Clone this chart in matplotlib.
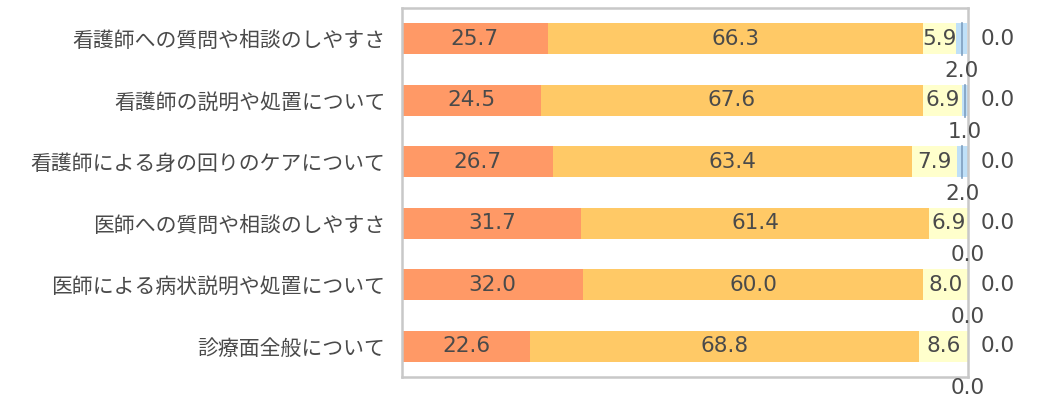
import matplotlib
matplotlib.use("Agg")
import matplotlib.pyplot as plt
import numpy as np

plt.rcParams['font.family'] = ['Noto Sans CJK JP', 'DejaVu Sans']

# 項目
categories = ["看護師への質問や相談のしやすさ",
              "看護師の説明や処置について",
              "看護師による身の回りのケアについて",
              "医師への質問や相談のしやすさ",
              "医師による病状説明や処置について",
              "診療面全般について"]

# 各回答の割合 (%)
s1 = [25.7, 24.5, 26.7, 31.7, 32.0, 22.6]
s2 = [66.3, 67.6, 63.4, 61.4, 60.0, 68.8]
s3 = [5.9, 6.9, 7.9, 6.9, 8.0, 8.6]
s4 = [2.0, 1.0, 2.0, 0.0, 0.0, 0.0]
s5 = [0.0, 0.0, 0.0, 0.0, 0.0, 0.0]

colors = ['#FF9966', '#FFC966', '#FFFFCC', '#BFE0F8', '#9DC3E6']
txt = '#4a4a4a'
numfont = dict(fontsize=15.5, color=txt, family='DejaVu Sans')

fig = plt.figure(figsize=(10.39, 4.01), dpi=100)
ax = fig.add_axes([0.387, 0.06, 0.5447, 0.92])

y = np.arange(len(categories))
left = np.zeros(len(categories))
series = [s1, s2, s3, s4, s5]
for vals, c in zip(series, colors):
    ax.barh(y, vals, left=left, height=0.5, color=c, edgecolor='none')
    left = left + np.array(vals)

# ラベル
n = len(categories)
for i in range(n):
    x0 = 0
    for k in range(3):
        v = series[k][i]
        ax.text(x0 + v / 2, i, f"{v:.1f}", ha='center', va='center', **numfont)
        x0 += v
    v4 = s4[i]
    if v4 > 0:
        ax.plot([x0 + v4 / 2] * 2, [i - 0.25, i + 0.27], color='#7F9FBF',
                lw=1.2, clip_on=False)
    off = 0.68 if i == n - 1 else 0.52
    ax.text(x0 + v4 / 2, i + off, f"{v4:.1f}", ha='center', va='center',
            clip_on=False, **numfont)
    ax.text(105.2, i, f"{s5[i]:.1f}", ha='center', va='center',
            clip_on=False, **numfont)

ax.set_xlim(0, 100)
ax.set_ylim(5.5, -0.5)
ax.set_xticks([])
ax.set_yticks(y)
ax.set_yticklabels(categories, fontsize=15, color=txt)
ax.tick_params(axis='y', length=0, pad=12)
for sp in ax.spines.values():
    sp.set_color('#C8C8C8')
    sp.set_linewidth(1.8)

fig.savefig("out.png", dpi=100)
